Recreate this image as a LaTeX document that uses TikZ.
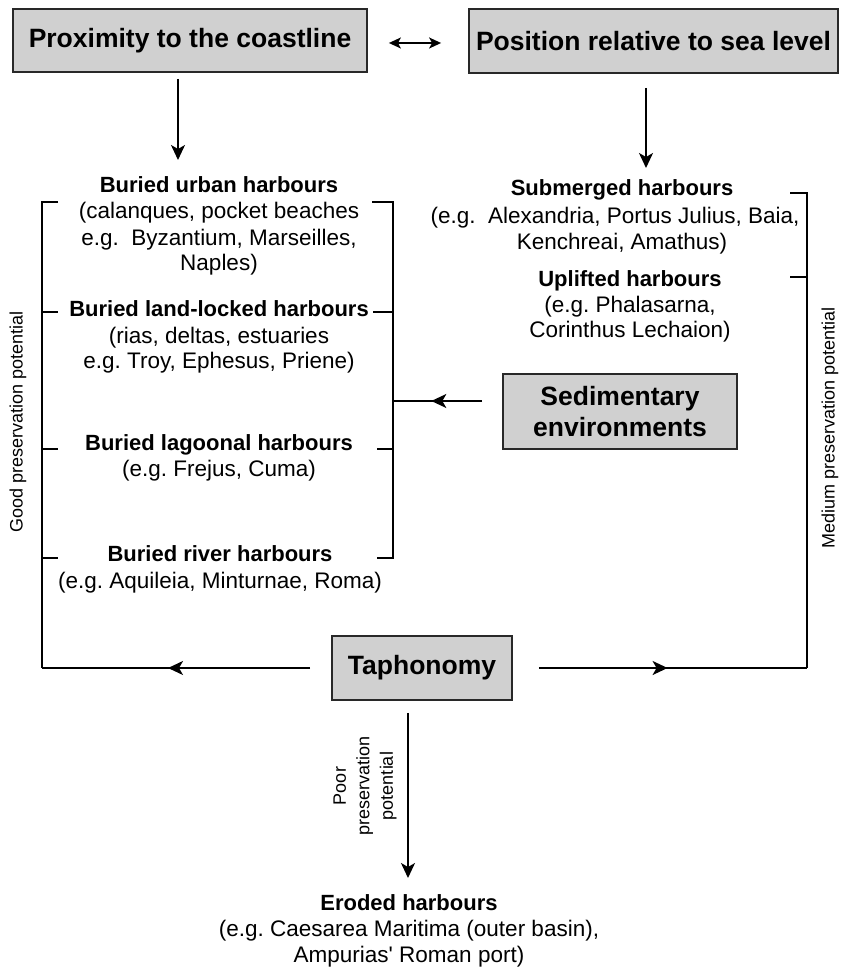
\documentclass[tikz,border=0pt]{standalone}
\usepackage{fontspec}
\setmainfont{Liberation Sans}[Ligatures=TeXOff]
\usetikzlibrary{arrows.meta,decorations.markings,calc}
\definecolor{boxgray}{RGB}{208,208,208}
\definecolor{boxline}{RGB}{40,40,40}
\tikzset{
  mainbox/.style={draw=boxline, line width=1.8pt, fill=boxgray, inner sep=0pt, align=center,
    font=\fontsize{26.5}{31}\selectfont\bfseries},
  ttl/.style={anchor=base, inner sep=0pt, font=\fontsize{22}{26}\selectfont\bfseries},
  txt/.style={anchor=base, inner sep=0pt, font=\fontsize{22.5}{26}\selectfont},
  vlabel/.style={rotate=90, inner sep=0pt, align=center, font=\fontsize{18}{23.5}\selectfont},
  conn/.style={line width=1.8pt},
  arrowend/.style={-{Stealth[length=15pt,width=14pt,inset=4pt]}},
  midarrow/.style={postaction={decorate}, decoration={markings,
    mark=at position #1 with {\arrow{Stealth[length=15pt,width=14pt,inset=4pt]}}}},
}
\begin{document}
\frenchspacing
\begin{tikzpicture}[x=1pt,y=-1pt]
\useasboundingbox (0,0) rectangle (840,968);

% main boxes
\node[mainbox, minimum width=354pt, minimum height=63pt] (prox) at (190,40.5) {Proximity to the coastline};
\node[mainbox, minimum width=369pt, minimum height=64pt] (pos) at (653.5,41) {Position relative to sea level};
\node[mainbox, minimum width=234pt, minimum height=75pt] (sed) at (620,411.5) {Sedimentary\\environments};
\node[mainbox, minimum width=180pt, minimum height=64pt] (taph) at (422,668) {Taphonomy};

% left column
\node[ttl] (urbanT) at (219,193) {Buried urban harbours};
\node[txt] (urban1) at (219,219) {(calanques, pocket beaches};
\node[txt] (urban2) at (219,245) {e.g.\ \ Byzantium, Marseilles,};
\node[txt] (urban3) at (219,270) {Naples)};
\node[ttl] (landT) at (219,316) {Buried land-locked harbours};
\node[txt] (land1) at (219,343) {(rias, deltas, estuaries};
\node[txt] (land2) at (219,368) {e.g. Troy, Ephesus, Priene)};
\node[ttl] (lagT) at (219,450) {Buried lagoonal harbours};
\node[txt] (lag1) at (219,476) {(e.g. Frejus, Cuma)};
\node[ttl] (rivT) at (220,561) {Buried river harbours};
\node[txt] (riv1) at (220,588) {(e.g. Aquileia, Minturnae, Roma)};

% right column
\node[ttl] (subT) at (622,196) {Submerged harbours};
\node[txt] (sub1) at (615,224) {(e.g.\ \ Alexandria, Portus Julius, Baia,};
\node[txt] (sub2) at (622,250) {Kenchreai, Amathus)};
\node[ttl] (uplT) at (630,286) {Uplifted harbours};
\node[txt] (upl1) at (630,312) {(e.g. Phalasarna,};
\node[txt] (upl2) at (630,337) {Corinthus Lechaion)};

% bottom
\node[ttl] (eroT) at (409,910) {Eroded harbours};
\node[txt] (ero1) at (409,936) {(e.g. Caesarea Maritima (outer basin),};
\node[txt] (ero2) at (409,962) {Ampurias' Roman port)};

% rotated labels
\node[vlabel] (good) at (18,422) {Good preservation potential};
\node[vlabel] (medium) at (830,428) {Medium preservation potential};
\node[vlabel] (poor) at (365,786) {Poor\\preservation\\potential};

% bracket coordinates
\coordinate (LT) at (42,202);
\coordinate (LB) at (42,668);
\coordinate (RT) at (393,202);
\coordinate (RB) at (393,558);
\coordinate (RJ) at (393,401);
\coordinate (MT) at (807,193);
\coordinate (MB) at (807,668);

% left bracket (good)
\draw[conn] (58,202) -- (LT) -- (LB);
\draw[conn] (42,312) -- (58,312);
\draw[conn] (42,449) -- (58,449);
\draw[conn] (42,558) -- (58,558);
% right side of inner bracket
\draw[conn] (372,202) -- (RT) -- (RB) -- (377,558);
\draw[conn] (373,312) -- (393,312);
\draw[conn] (377,449) -- (393,449);
% medium bracket
\draw[conn] (790,193) -- (MT) -- (MB);
\draw[conn] (790,277) -- (807,277);

% connectors
\draw[conn, {Stealth[length=12pt,width=11pt,inset=3pt]}-{Stealth[length=12pt,width=11pt,inset=3pt]}]
  ($(prox.east)+(21,2.5)$) -- ($(pos.west)+(-27,2)$);
\coordinate (a1) at (178,160);
\draw[conn, arrowend] ($(prox.south -| a1)+(0,6)$) -- (a1);
\coordinate (a2) at (646,168);
\draw[conn, arrowend] ($(pos.south -| a2)+(0,14)$) -- (a2);
\draw[conn, midarrow=0.57] ($(sed.west |- RJ)+(-20,0)$) -- (RJ);
\draw[conn, midarrow=0.53] ($(taph.west)+(-21,0)$) -- (LB);
\draw[conn, midarrow=0.48] ($(taph.east)+(26,0)$) -- (MB);
\coordinate (a3) at (408,878);
\draw[conn, arrowend] ($(taph.south -| a3)+(0,12)$) -- (a3);
\end{tikzpicture}
\end{document}
